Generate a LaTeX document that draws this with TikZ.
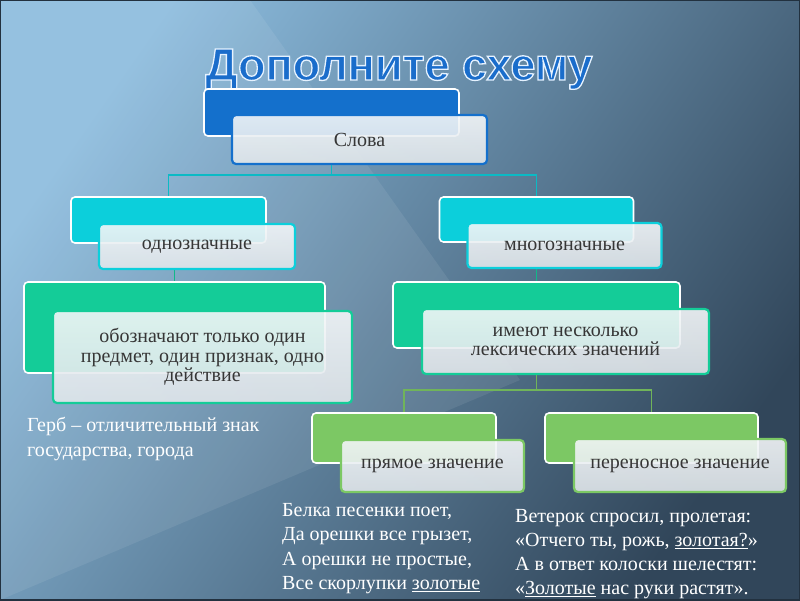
\documentclass[tikz,border=0pt]{standalone}
\usepackage{fontspec}
\setmainfont{Liberation Serif}
\newfontfamily\titlefont{Liberation Sans}
\usetikzlibrary{positioning, calc}

\definecolor{bgLight}{HTML}{8CBCDE}
\definecolor{bgMid}{HTML}{58788F}
\definecolor{bgDark}{HTML}{31465A}
\definecolor{slovaBlue}{HTML}{1470CC}
\definecolor{odnCyan}{HTML}{0CCFDB}
\definecolor{znachTeal}{HTML}{14CC98}
\definecolor{vidGreen}{HTML}{7CC864}
\definecolor{frontTop}{HTML}{F3F6F8}
\definecolor{frontBottom}{HTML}{E0E6EA}
\definecolor{titleBlue}{HTML}{1A6DCB}
\definecolor{boxText}{HTML}{363636}

% outlined letters for the title (fill + white stroke)
\newcommand{\outlined}[1]{\special{pdf:literal direct 2 Tr 1.3 w 0.9 0.95 1 RG}#1\special{pdf:literal direct 0 Tr}}

\begin{document}
\begin{tikzpicture}[x=1pt, y=-1pt,
    back/.style={rectangle, rounded corners=4pt, draw=white, line width=1.6pt,
                 fill=#1, inner sep=0pt},
    front/.style={rectangle, rounded corners=4pt, draw=#1, line width=2.2pt,
                  top color=frontTop, bottom color=frontBottom, fill opacity=0.9,
                  text opacity=1, inner sep=2pt, align=center, text=boxText,
                  font=\fontsize{20}{19.5}\selectfont},
    link/.style={draw=#1, line width=1.8pt},
    verse/.style={align=left, text=white, inner sep=0pt, anchor=north west,
                  font=\fontsize{20}{25}\selectfont},
  ]
  \useasboundingbox (0,0) rectangle (800,600);
  % background
  \shade[top color=bgLight, middle color=bgMid, bottom color=bgDark, shading angle=55]
    (0,0) rectangle (800,600);
  \fill[white, opacity=0.08] (0,0) -- (250,0) -- (520,380) -- (0,600) -- cycle;

  % title
  \node[font=\titlefont\bfseries\fontsize{45}{45}\selectfont, text=titleBlue,
        anchor=base] (title) at (399,80) {\outlined{Дополните схему}};

  % boxes: coloured back plate + light front plate
  \node[back=slovaBlue, minimum width=255, minimum height=47] (slova-bg) at (331.5,112.5) {};
  \node[front=slovaBlue, minimum width=255, minimum height=49] (slova) at (359.5,139.5) {Слова};

  \node[back=odnCyan, minimum width=195, minimum height=46] (odn-bg) at (168.5,220) {};
  \node[back=odnCyan, minimum width=194, minimum height=45] (mnog-bg) at (536.5,219.5) {};

  \node[back=znachTeal, minimum width=301, minimum height=91] (gr1-bg) at (174.5,327.5) {};
  \node[back=znachTeal, minimum width=287, minimum height=66] (gr2-bg) at (536.5,315) {};

  \node[back=vidGreen, minimum width=184, minimum height=50] (pr-bg) at (404,438) {};
  \node[back=vidGreen, minimum width=213, minimum height=50] (per-bg) at (651.5,438) {};

  % connectors
  \draw[link=odnCyan!90!black] (slova-bg |- slova.south) -- ++(0,10) -| (odn-bg.north);
  \draw[link=odnCyan!90!black] (slova-bg |- slova.south) -- ++(0,10) -| (mnog-bg.north);
  \draw[link=znachTeal!90!black] (gr1-bg.north |- 0,269) -- (gr1-bg.north);
  \draw[link=znachTeal!90!black] (gr2-bg.north |- 0,268) -- (gr2-bg.north);
  \draw[link=vidGreen!90!black] (gr2-bg |- 0,374) -- ++(0,16) -| (pr-bg.north);
  \draw[link=vidGreen!90!black] (gr2-bg |- 0,374) -- ++(0,16) -| (per-bg.north);

  \node[front=odnCyan, minimum width=196, minimum height=45] (odn) at (197,246.5) {однозначные};
  \node[front=odnCyan, minimum width=194, minimum height=45] (mnog) at (564.5,245.5) {многозначные};

  \node[front=znachTeal, minimum width=299, minimum height=92] (gr1) at (202.5,357)
    {обозначают только один\\предмет, один признак, одно\\действие};
  \node[front=znachTeal, minimum width=287, minimum height=65] (gr2) at (565.5,341.5)
    {имеют несколько\\лексических значений};

  \node[front=vidGreen, minimum width=183, minimum height=52] (pr) at (432.5,466) {прямое значение};
  \node[front=vidGreen, minimum width=212, minimum height=53] (per) at (680,465.5) {переносное значение};

  % examples
  \node[verse] (gerb) at (27,417)
    {Герб – отличительный знак\\государства, города};
  \node[verse, font=\fontsize{20}{24.5}\selectfont] (belka) at (282,503)
    {Белка песенки поет,\\Да орешки все грызет,\\А орешки не простые,\\Все скорлупки \underline{золотые}};
  \node[verse, font=\fontsize{20}{24}\selectfont] (veterok) at (515,509)
    {Ветерок спросил, пролетая:\\«Отчего ты, рожь, \underline{золотая?}»\\А в ответ колоски шелестят:\\«\underline{Золотые} нас руки растят».};

  \draw[bgDark!70!black, line width=1.2pt] (0,0) rectangle (800,600);
\end{tikzpicture}
\end{document}
